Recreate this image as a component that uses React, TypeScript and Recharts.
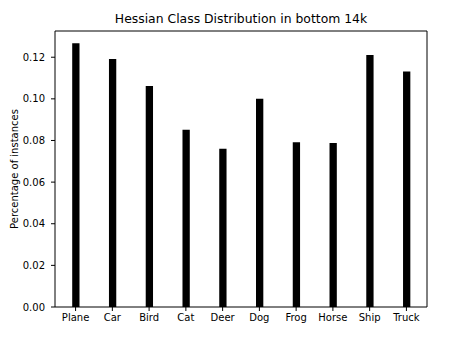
import React from 'react';
import { BarChart, Bar, XAxis, YAxis, ReferenceArea } from 'recharts';

const categories = ['Plane', 'Car', 'Bird', 'Cat', 'Deer', 'Dog', 'Frog', 'Horse', 'Ship', 'Truck'];
const percentages = [0.1267, 0.1192, 0.1062, 0.0851, 0.076, 0.1001, 0.0792, 0.0788, 0.1211, 0.1131];
const yTicks = [0, 0.02, 0.04, 0.06, 0.08, 0.1, 0.12];
const title = 'Hessian Class Distribution in bottom 14k';
const yLabel = 'Percentage of instances';

const data = categories.map((name, i) => ({ idx: i, name, value: percentages[i] }));
const xTicks = categories.map((_, i) => i);

const X_MIN = -0.56;
const X_MAX = 9.56;
const Y_MAX = 0.1326;

const FONT = '"DejaVu Sans", sans-serif';

export default function App() {
  return (
    <div style={{ position: 'absolute', left: 0, top: 0, width: 449, height: 338, background: '#fff', fontFamily: FONT }}>
      <div
        style={{
          position: 'absolute',
          left: 55,
          width: 372,
          top: 12,
          textAlign: 'center',
          fontSize: 12.4,
          lineHeight: '14px',
          color: '#000',
        }}
      >
        {title}
      </div>
      <div
        style={{
          position: 'absolute',
          left: 14,
          top: 169,
          transform: 'translate(-50%, -50%) rotate(-90deg)',
          fontSize: 10,
          whiteSpace: 'nowrap',
          color: '#000',
        }}
      >
        {yLabel}
      </div>
      <BarChart
        width={449}
        height={338}
        data={data}
        margin={{ top: 31, right: 22, bottom: 0, left: 0 }}
        style={{ position: 'absolute', left: 0, top: 0 }}
      >
        <XAxis
          dataKey="idx"
          type="number"
          domain={[X_MIN, X_MAX]}
          ticks={xTicks}
          allowDataOverflow
          tickFormatter={(v: number) => categories[v] ?? ''}
          height={31}
          tickSize={4}
          tickMargin={3}
          interval={0}
          stroke="#000"
          tick={{ fill: '#000', fontSize: 10, fontFamily: FONT }}
          axisLine={false}
        />
        <YAxis
          type="number"
          domain={[0, Y_MAX]}
          ticks={yTicks}
          allowDataOverflow
          width={55}
          tickSize={4}
          tickMargin={6}
          tickFormatter={(v: number) => v.toFixed(2)}
          stroke="#000"
          tick={{ fill: '#000', fontSize: 10, fontFamily: FONT }}
          axisLine={false}
        />
        <Bar dataKey="value" fill="#000" barSize={7.3} isAnimationActive={false} />
        <ReferenceArea
          x1={X_MIN}
          x2={X_MAX}
          y1={0}
          y2={Y_MAX}
          fill="none"
          fillOpacity={0}
          stroke="#000"
          strokeWidth={1}
          strokeOpacity={1}
          ifOverflow="visible"
        />
      </BarChart>
    </div>
  );
}
